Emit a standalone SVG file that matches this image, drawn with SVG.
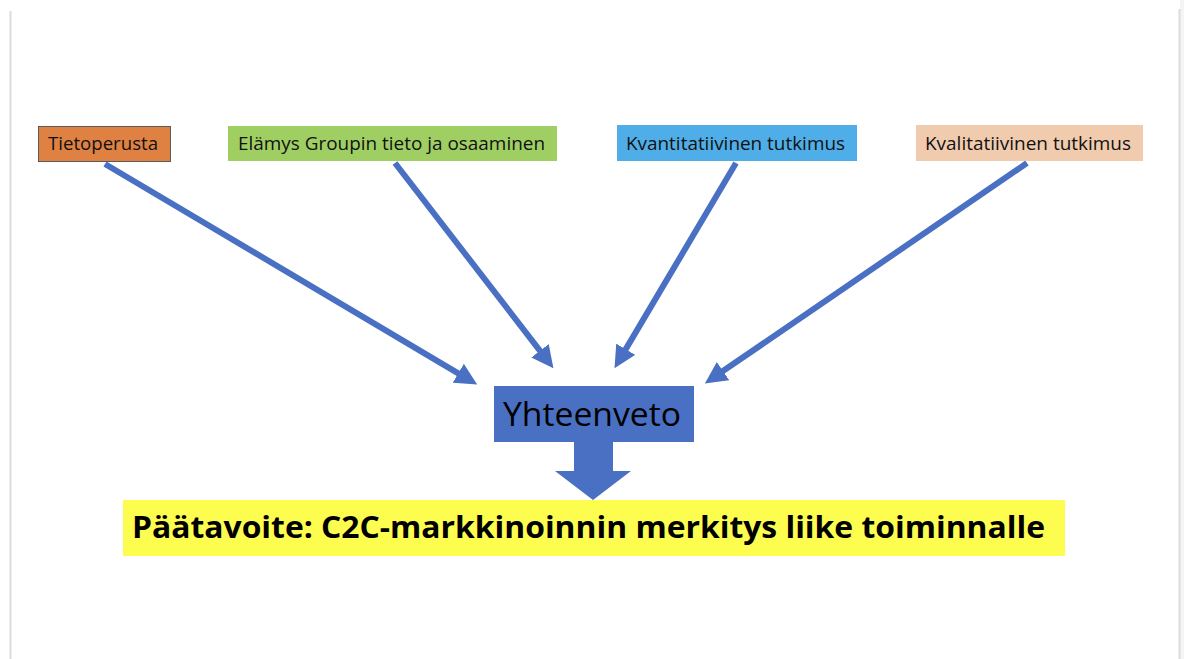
<svg xmlns="http://www.w3.org/2000/svg" width="1184" height="659" viewBox="0 0 1184 659">
  <style>
    .lbl { font-family: "Open Sans", "Liberation Sans", sans-serif; font-size: 18.5px; fill: #111; }
    .conn { stroke: #4a70c4; stroke-width: 6; fill: none; marker-end: url(#head); }
    .big { font-family: "Open Sans", "Liberation Sans", sans-serif; font-size: 32px; fill: #000; }
    .goal { font-family: "Open Sans", "Liberation Sans", sans-serif; font-size: 29.5px; font-weight: bold; fill: #000; }
  </style>
  <defs>
    <marker id="head" viewBox="0 -11 22 22" refX="1" refY="0" markerWidth="22" markerHeight="22" markerUnits="userSpaceOnUse" orient="auto">
      <path d="M0,-11 L22,0 L0,11 z" fill="#4a70c4"/>
    </marker>
  </defs>
  <rect x="0" y="0" width="1184" height="659" fill="#ffffff"/>
  <rect x="1180" y="0" width="4" height="659" fill="#f4f4f4"/>
  <line x1="10.5" y1="11" x2="10.5" y2="659" stroke="#dcdcdc" stroke-width="2"/>
  <line x1="1179.5" y1="9" x2="1179.5" y2="659" stroke="#dcdcdc" stroke-width="2"/>

  <g id="connectors">
    <line class="conn" x1="105" y1="164" x2="459.1" y2="373.8"/>
    <line class="conn" x1="395" y1="163" x2="540.6" y2="351.6"/>
    <line class="conn" x1="736" y1="163" x2="625.2" y2="350.1"/>
    <line class="conn" x1="1027" y1="163" x2="722.2" y2="371.6"/>
    <polygon points="574,442 613,442 613,471 631,471 593,500 555,471 574,471" fill="#4a70c4"/>
  </g>

  <g id="tietoperusta">
    <rect x="38.5" y="126.5" width="132" height="35" fill="#df8142" stroke="#5a5a5a" stroke-width="1"/>
    <text class="lbl" x="48" y="150" textLength="110" lengthAdjust="spacingAndGlyphs">Tietoperusta</text>
  </g>
  <g id="elamys">
    <rect x="228" y="126" width="329" height="35" fill="#9fcf63"/>
    <text class="lbl" x="238" y="150" textLength="307" lengthAdjust="spacingAndGlyphs">Elämys Groupin tieto ja osaaminen</text>
  </g>
  <g id="kvantitatiivinen">
    <rect x="617" y="125" width="240" height="36" fill="#4faee8"/>
    <text class="lbl" x="626" y="150" textLength="219" lengthAdjust="spacingAndGlyphs">Kvantitatiivinen tutkimus</text>
  </g>
  <g id="kvalitatiivinen">
    <rect x="916" y="125" width="227" height="36" fill="#f1cbad"/>
    <text class="lbl" x="925" y="150" textLength="206" lengthAdjust="spacingAndGlyphs">Kvalitatiivinen tutkimus</text>
  </g>
  <g id="yhteenveto">
    <rect x="494" y="386" width="200" height="56" fill="#4a70c4"/>
    <text class="big" x="503" y="426" textLength="178" lengthAdjust="spacingAndGlyphs">Yhteenveto</text>
  </g>
  <g id="paatavoite">
    <rect x="123" y="500" width="942" height="56" fill="#fdfd50"/>
    <text class="goal" x="132" y="538" textLength="913" lengthAdjust="spacingAndGlyphs">Päätavoite: C2C-markkinoinnin merkitys liike toiminnalle</text>
  </g>
</svg>
